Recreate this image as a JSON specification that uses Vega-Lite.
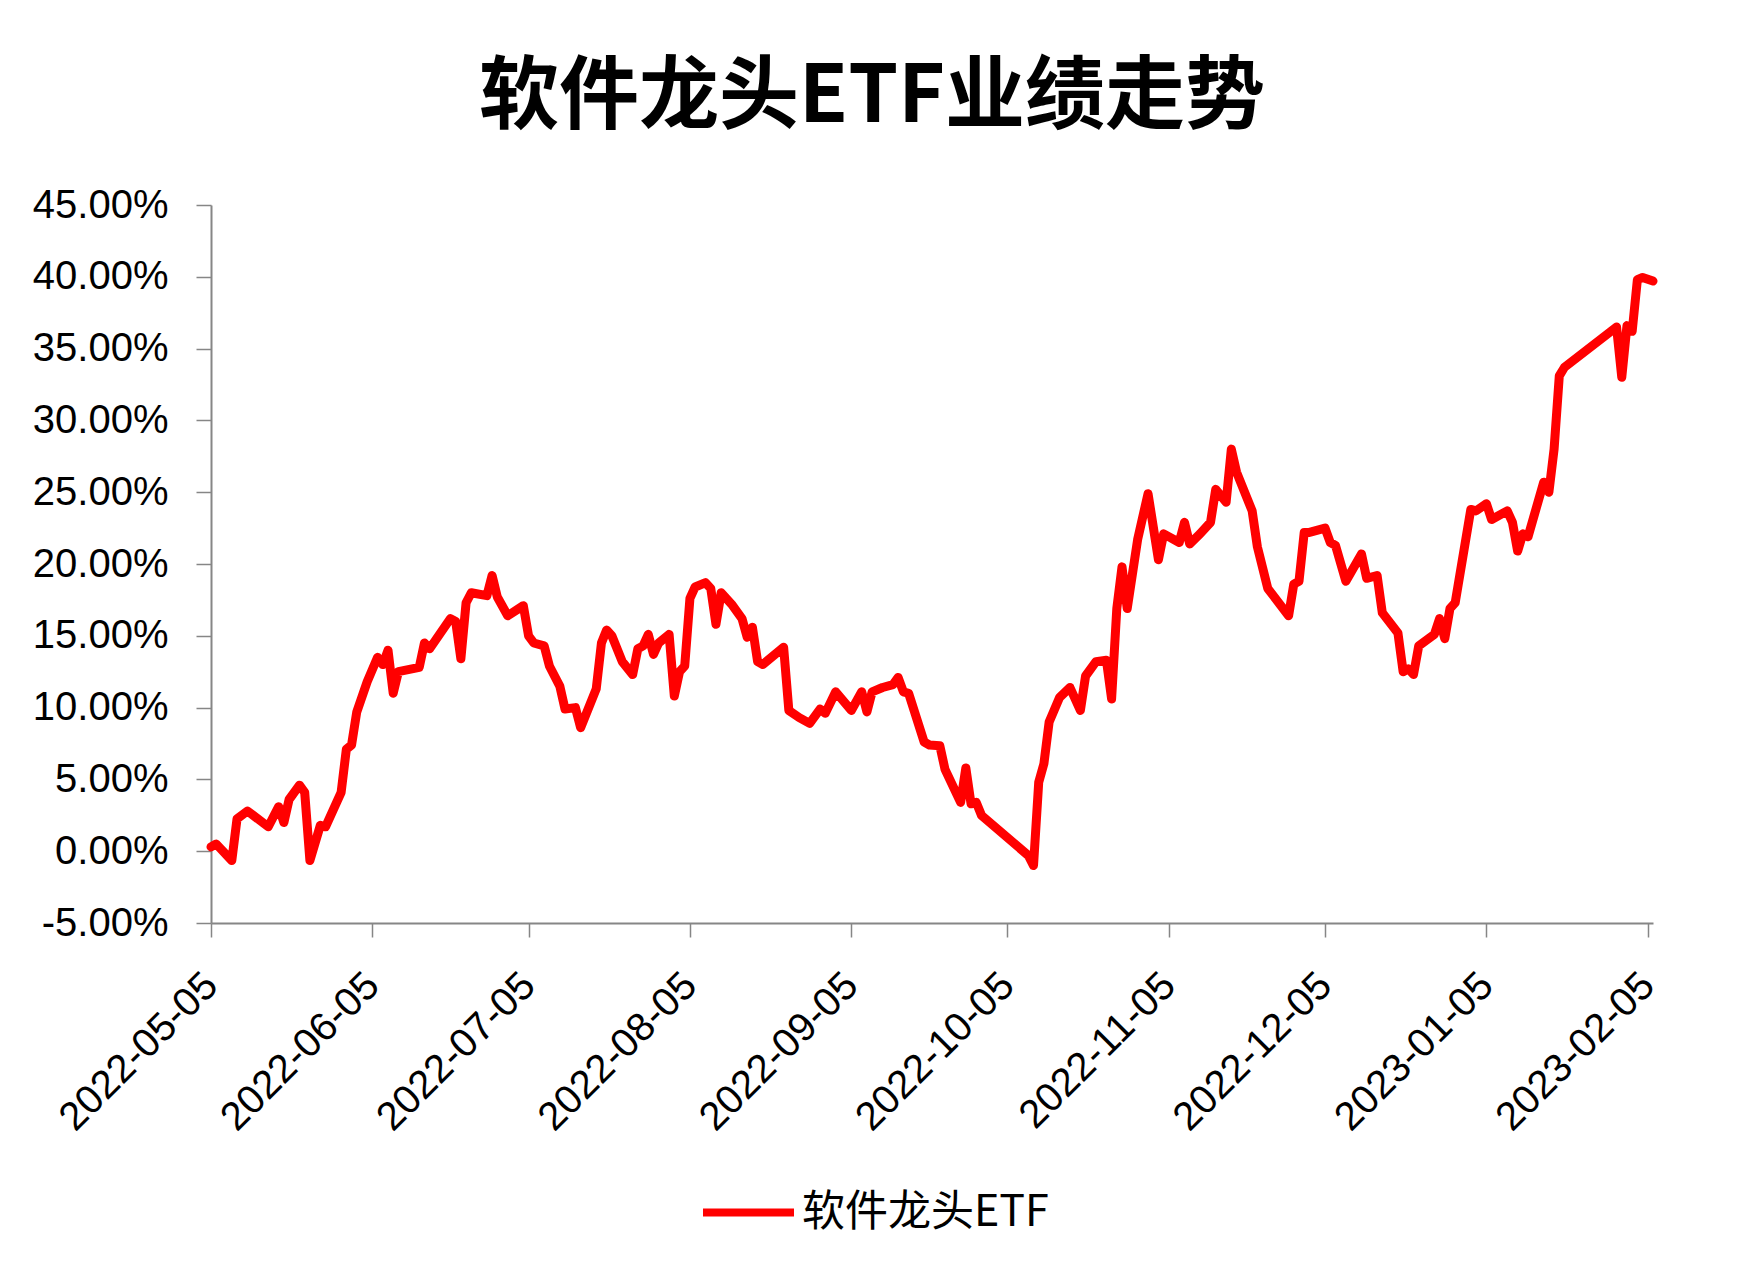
{
  "$schema": "https://vega.github.io/schema/vega-lite/v6.json",
  "width": 1442,
  "height": 718,
  "autosize": {"type": "none"},
  "padding": {"left": 211, "top": 205, "right": 91, "bottom": 362},
  "background": "white",
  "title": {"text": "软件龙头ETF业绩走势", "fontSize": 80, "font": "Noto Sans CJK SC", "fontWeight": "bold", "color": "#000000", "anchor": "middle", "frame": "group", "dx": -60, "offset": 46},
  "config": {"view": {"stroke": null}},
  "data": {"values": [
    {"d": "2022-05-05", "v": 0.3}, {"d": "2022-05-06", "v": 0.5}, {"d": "2022-05-09", "v": -0.65}, {"d": "2022-05-10", "v": 2.25},
    {"d": "2022-05-12", "v": 2.8}, {"d": "2022-05-16", "v": 1.7}, {"d": "2022-05-18", "v": 3.1}, {"d": "2022-05-19", "v": 2.0},
    {"d": "2022-05-20", "v": 3.6}, {"d": "2022-05-22", "v": 4.6}, {"d": "2022-05-23", "v": 4.1}, {"d": "2022-05-24", "v": -0.65},
    {"d": "2022-05-26", "v": 1.8}, {"d": "2022-05-27", "v": 1.7}, {"d": "2022-05-30", "v": 4.1}, {"d": "2022-05-31", "v": 7.1},
    {"d": "2022-06-01", "v": 7.4}, {"d": "2022-06-02", "v": 9.7}, {"d": "2022-06-04", "v": 11.8}, {"d": "2022-06-06", "v": 13.5},
    {"d": "2022-06-07", "v": 13.0}, {"d": "2022-06-08", "v": 14.0}, {"d": "2022-06-09", "v": 11.0}, {"d": "2022-06-10", "v": 12.5},
    {"d": "2022-06-14", "v": 12.8}, {"d": "2022-06-15", "v": 14.5}, {"d": "2022-06-16", "v": 14.1}, {"d": "2022-06-20", "v": 16.2},
    {"d": "2022-06-21", "v": 16.0}, {"d": "2022-06-22", "v": 13.4}, {"d": "2022-06-23", "v": 17.3}, {"d": "2022-06-24", "v": 18.0},
    {"d": "2022-06-27", "v": 17.8}, {"d": "2022-06-28", "v": 19.2}, {"d": "2022-06-29", "v": 17.7}, {"d": "2022-07-01", "v": 16.4},
    {"d": "2022-07-04", "v": 17.1}, {"d": "2022-07-05", "v": 15.0}, {"d": "2022-07-06", "v": 14.5}, {"d": "2022-07-08", "v": 14.3},
    {"d": "2022-07-09", "v": 12.9}, {"d": "2022-07-11", "v": 11.5}, {"d": "2022-07-12", "v": 9.9}, {"d": "2022-07-14", "v": 10.0},
    {"d": "2022-07-15", "v": 8.6}, {"d": "2022-07-18", "v": 11.3}, {"d": "2022-07-19", "v": 14.5}, {"d": "2022-07-20", "v": 15.4},
    {"d": "2022-07-21", "v": 15.0}, {"d": "2022-07-23", "v": 13.2}, {"d": "2022-07-25", "v": 12.3}, {"d": "2022-07-26", "v": 14.1},
    {"d": "2022-07-27", "v": 14.3}, {"d": "2022-07-28", "v": 15.1}, {"d": "2022-07-29", "v": 13.7}, {"d": "2022-07-30", "v": 14.5},
    {"d": "2022-08-01", "v": 15.1}, {"d": "2022-08-02", "v": 10.8}, {"d": "2022-08-03", "v": 12.5}, {"d": "2022-08-04", "v": 12.9},
    {"d": "2022-08-05", "v": 17.6}, {"d": "2022-08-06", "v": 18.4}, {"d": "2022-08-08", "v": 18.7}, {"d": "2022-08-09", "v": 18.3},
    {"d": "2022-08-10", "v": 15.8}, {"d": "2022-08-11", "v": 18.0}, {"d": "2022-08-13", "v": 17.2}, {"d": "2022-08-15", "v": 16.2},
    {"d": "2022-08-16", "v": 14.9}, {"d": "2022-08-17", "v": 15.6}, {"d": "2022-08-18", "v": 13.2}, {"d": "2022-08-19", "v": 13.0},
    {"d": "2022-08-23", "v": 14.2}, {"d": "2022-08-24", "v": 9.8}, {"d": "2022-08-26", "v": 9.3}, {"d": "2022-08-28", "v": 8.9},
    {"d": "2022-08-30", "v": 9.9}, {"d": "2022-08-31", "v": 9.6}, {"d": "2022-09-02", "v": 11.1}, {"d": "2022-09-05", "v": 9.8},
    {"d": "2022-09-07", "v": 11.1}, {"d": "2022-09-08", "v": 9.7}, {"d": "2022-09-09", "v": 11.1}, {"d": "2022-09-11", "v": 11.4},
    {"d": "2022-09-13", "v": 11.6}, {"d": "2022-09-14", "v": 12.1}, {"d": "2022-09-15", "v": 11.1}, {"d": "2022-09-16", "v": 11.0},
    {"d": "2022-09-19", "v": 7.6}, {"d": "2022-09-20", "v": 7.4}, {"d": "2022-09-22", "v": 7.35}, {"d": "2022-09-23", "v": 5.7},
    {"d": "2022-09-26", "v": 3.4}, {"d": "2022-09-27", "v": 5.8}, {"d": "2022-09-28", "v": 3.3}, {"d": "2022-09-29", "v": 3.4},
    {"d": "2022-09-30", "v": 2.5}, {"d": "2022-10-09", "v": -0.3}, {"d": "2022-10-10", "v": -1.0}, {"d": "2022-10-11", "v": 4.8},
    {"d": "2022-10-12", "v": 6.1}, {"d": "2022-10-13", "v": 9.0}, {"d": "2022-10-15", "v": 10.7}, {"d": "2022-10-17", "v": 11.4},
    {"d": "2022-10-19", "v": 9.8}, {"d": "2022-10-20", "v": 12.2}, {"d": "2022-10-22", "v": 13.2}, {"d": "2022-10-24", "v": 13.3},
    {"d": "2022-10-25", "v": 10.6}, {"d": "2022-10-26", "v": 16.9}, {"d": "2022-10-27", "v": 19.8}, {"d": "2022-10-28", "v": 16.9},
    {"d": "2022-10-30", "v": 21.7}, {"d": "2022-11-01", "v": 24.9}, {"d": "2022-11-03", "v": 20.3}, {"d": "2022-11-04", "v": 22.1},
    {"d": "2022-11-07", "v": 21.5}, {"d": "2022-11-08", "v": 22.9}, {"d": "2022-11-09", "v": 21.4}, {"d": "2022-11-11", "v": 22.1},
    {"d": "2022-11-13", "v": 22.9}, {"d": "2022-11-14", "v": 25.2}, {"d": "2022-11-16", "v": 24.3}, {"d": "2022-11-17", "v": 28.0},
    {"d": "2022-11-18", "v": 26.4}, {"d": "2022-11-21", "v": 23.7}, {"d": "2022-11-22", "v": 21.2}, {"d": "2022-11-24", "v": 18.3},
    {"d": "2022-11-28", "v": 16.4}, {"d": "2022-11-29", "v": 18.6}, {"d": "2022-11-30", "v": 18.8}, {"d": "2022-12-01", "v": 22.2},
    {"d": "2022-12-02", "v": 22.2}, {"d": "2022-12-05", "v": 22.5}, {"d": "2022-12-06", "v": 21.5}, {"d": "2022-12-07", "v": 21.3},
    {"d": "2022-12-09", "v": 18.8}, {"d": "2022-12-12", "v": 20.7}, {"d": "2022-12-13", "v": 19.0}, {"d": "2022-12-15", "v": 19.2},
    {"d": "2022-12-16", "v": 16.6}, {"d": "2022-12-19", "v": 15.2}, {"d": "2022-12-20", "v": 12.5}, {"d": "2022-12-21", "v": 12.7},
    {"d": "2022-12-22", "v": 12.3}, {"d": "2022-12-23", "v": 14.3}, {"d": "2022-12-26", "v": 15.1}, {"d": "2022-12-27", "v": 16.2},
    {"d": "2022-12-28", "v": 14.8}, {"d": "2022-12-29", "v": 16.9}, {"d": "2022-12-30", "v": 17.3}, {"d": "2023-01-02", "v": 23.8},
    {"d": "2023-01-03", "v": 23.7}, {"d": "2023-01-05", "v": 24.2}, {"d": "2023-01-06", "v": 23.1}, {"d": "2023-01-09", "v": 23.7},
    {"d": "2023-01-10", "v": 22.9}, {"d": "2023-01-11", "v": 20.9}, {"d": "2023-01-12", "v": 22.1}, {"d": "2023-01-13", "v": 21.9},
    {"d": "2023-01-16", "v": 25.7}, {"d": "2023-01-17", "v": 25.0}, {"d": "2023-01-18", "v": 28.0}, {"d": "2023-01-19", "v": 33.1},
    {"d": "2023-01-20", "v": 33.7}, {"d": "2023-01-30", "v": 36.5}, {"d": "2023-01-31", "v": 33.0}, {"d": "2023-02-01", "v": 36.6},
    {"d": "2023-02-02", "v": 36.2}, {"d": "2023-02-03", "v": 39.8}, {"d": "2023-02-04", "v": 39.95}, {"d": "2023-02-06", "v": 39.7}
  ]},
  "mark": {"type": "line", "strokeWidth": 9, "strokeJoin": "round", "strokeCap": "round"},
  "encoding": {
    "x": {
      "field": "d", "type": "temporal",
      "scale": {"type": "utc", "domain": [{"year": 2022, "month": 5, "date": 5, "utc": true}, {"year": 2023, "month": 2, "date": 6, "utc": true}]},
      "axis": {
        "title": null, "grid": false,
        "values": [
          {"year": 2022, "month": 5, "date": 5, "utc": true}, {"year": 2022, "month": 6, "date": 5, "utc": true},
          {"year": 2022, "month": 7, "date": 5, "utc": true}, {"year": 2022, "month": 8, "date": 5, "utc": true},
          {"year": 2022, "month": 9, "date": 5, "utc": true}, {"year": 2022, "month": 10, "date": 5, "utc": true},
          {"year": 2022, "month": 11, "date": 5, "utc": true}, {"year": 2022, "month": 12, "date": 5, "utc": true},
          {"year": 2023, "month": 1, "date": 5, "utc": true}, {"year": 2023, "month": 2, "date": 5, "utc": true}
        ],
        "format": "%Y-%m-%d",
        "labelAngle": -45, "labelAlign": "right", "labelBaseline": "middle",
        "labelFont": "Liberation Sans", "labelFontSize": 40, "labelColor": "#000000",
        "labelPadding": 42, "labelOverlap": false, "labelFlush": false, "labelLimit": 500,
        "tickSize": 14, "tickColor": "#868686", "tickWidth": 1.5,
        "domainColor": "#868686", "domainWidth": 2
      }
    },
    "y": {
      "field": "v", "type": "quantitative",
      "scale": {"domain": [-5, 45], "nice": false, "zero": false},
      "axis": {
        "title": null, "grid": false,
        "values": [-5, 0, 5, 10, 15, 20, 25, 30, 35, 40, 45],
        "labelExpr": "(datum.value < 0 ? '-' : '') + format(abs(datum.value), '.2f') + '%'",
        "labelFont": "Liberation Sans", "labelFontSize": 40, "labelColor": "#000000",
        "labelPadding": 28, "labelOverlap": false, "labelFlush": false,
        "tickSize": 15, "tickColor": "#868686", "tickWidth": 1.5,
        "domainColor": "#868686", "domainWidth": 2
      }
    },
    "color": {
      "datum": "软件龙头ETF",
      "scale": {"range": ["#ff0000"]},
      "legend": {
        "title": null, "orient": "none", "legendX": 488, "legendY": 958, "padding": 0,
        "symbolType": "stroke", "symbolSize": 8281, "symbolStrokeWidth": 8,
        "labelFont": "Noto Sans CJK SC", "labelFontSize": 43, "labelColor": "#000000",
        "labelOffset": 4, "labelLimit": 600
      }
    }
  }
}
